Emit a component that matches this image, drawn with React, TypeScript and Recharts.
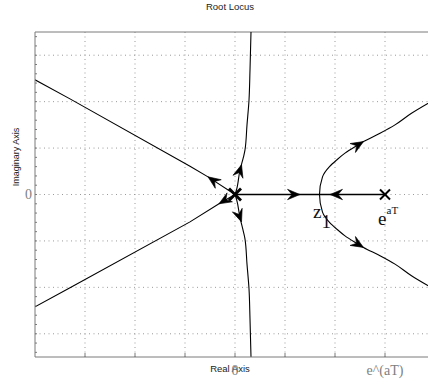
import React from 'react';
import {
  ComposedChart,
  Line,
  Scatter,
  XAxis,
  YAxis,
  CartesianGrid,
  ReferenceLine,
  Customized,
} from 'recharts';

// ---- data (real axis units, imaginary axis units) ----
const upperLeftBranch = [[0, 0], [-0.54, 0.38], [-0.9, 0.61], [-3.3, 2.06], [-4, 2.47]];
const lowerLeftBranch = [[0, 0], [-0.32, -0.2], [-0.9, -0.59], [-3.3, -2.01], [-4, -2.42]];
const upperVerticalBranch = [[0, 0], [0.03, 0.1], [0.1, 0.53], [0.17, 0.81], [0.2, 0.96], [0.24, 1.5], [0.28, 2.03], [0.3, 2.68], [0.32, 3.5]];
const lowerVerticalBranch = [[0, 0], [0.03, -0.1], [0.1, -0.5], [0.17, -0.81], [0.2, -0.96], [0.24, -1.5], [0.28, -2.03], [0.3, -2.68], [0.32, -3.5]];
const realAxisFromOrigin = [[0, 0], [1.69, 0]];
const realAxisFromPole = [[3, 0], [1.69, 0]];
const hyperbolaBranch = [
  [4.0, -2.05], [3.53, -1.75], [3.2, -1.5], [2.9, -1.32], [2.57, -1.14], [2.4, -1.03], [2.2, -0.89],
  [2.03, -0.74], [1.89, -0.6], [1.75, -0.38], [1.69, 0], [1.75, 0.38], [1.89, 0.6], [2.03, 0.74],
  [2.2, 0.89], [2.4, 1.03], [2.57, 1.14], [2.9, 1.32], [3.2, 1.5], [3.53, 1.75], [4.0, 2.05],
];
// arrows: [fromX, fromY, tipX, tipY]
const arrows = [
  [-0.3, 0.2, -0.54, 0.38],
  [-0.15, -0.09, -0.32, -0.2],
  [0.1, 0.53, 0.13, 0.64],
  [0.1, -0.5, 0.13, -0.59],
  [1.0, 0, 1.3, 0],
  [2.2, 0, 1.9, 0],
  [2.4, 1.03, 2.57, 1.14],
  [2.4, -1.03, 2.57, -1.14],
];
const multiplePole = [{ x: 0, y: 0 }];
const discretePole = [{ x: 3, y: 0 }];
const zeroPoint = [{ x: 1.69, y: 0 }];

const xTicks = [-3, -2, -1, 0, 1, 2, 3];
const xTickLabels = ['', '', '', '0', '', '', 'e^(aT)'];
const yGridValues = [-3, -2, -1, 0, 1, 2, 3];
const yMinorTicks = Array.from({ length: 35 }, (_, i) => Math.round((-3.4 + i * 0.2) * 10) / 10);

const rows = (pts: number[][]) => pts.map(([x, y]) => ({ x, y }));

const AXIS = '#7a7a7a';
const SERIF = '"Liberation Serif", "Times New Roman", serif';
const SANS = '"Liberation Sans", Arial, sans-serif';

const ArrowHead = (props: any) => {
  const { cx, cy, index, points } = props;
  const key = `ah-${index}`;
  if (index !== 1 || !points || points.length < 2) return <g key={key} />;
  const p = points[0];
  const ang = (Math.atan2(cy - p.y, cx - p.x) * 180) / Math.PI;
  return (
    <path
      key={key}
      d="M0,0 L-12.5,-5.2 L-8,0 L-12.5,5.2 Z"
      transform={`translate(${cx},${cy}) rotate(${ang})`}
      fill="#000"
      stroke="#000"
      strokeWidth={0.6}
    />
  );
};

const makeCross = (s: number, w: number) => (props: any) => {
  const { cx, cy } = props;
  return (
    <g>
      <line x1={cx - s} y1={cy - s} x2={cx + s} y2={cy + s} stroke="#000" strokeWidth={w} />
      <line x1={cx - s} y1={cy + s} x2={cx + s} y2={cy - s} stroke="#000" strokeWidth={w} />
    </g>
  );
};

const ZeroLabel = (props: any) => {
  const { cx, cy } = props;
  return (
    <g fontFamily={SERIF} fill="#111">
      <text x={cx - 6.5} y={cy + 23} fontSize={19}>z</text>
      <text x={cx + 2} y={cy + 33.5} fontSize={19}>1</text>
    </g>
  );
};

const PoleLabel = (props: any) => {
  const { cx, cy } = props;
  return (
    <g fontFamily={SERIF} fill="#111">
      <text x={cx - 7} y={cy + 30.5} fontSize={19}>e</text>
      <text x={cx + 1.5} y={cy + 19} fontSize={11}>aT</text>
    </g>
  );
};

const Titles = () => (
  <g fontFamily={SANS} fill="#222">
    <text x={230} y={9.5} fontSize={9.5} textAnchor="middle">Root Locus</text>
    <text x={230} y={372} fontSize={9.5} textAnchor="middle">Real Axis</text>
    <text x={18.5} y={157} fontSize={9} textAnchor="middle" transform="rotate(-90 18.5 157)">Imaginary Axis</text>
  </g>
);

export default function App() {
  const curve = (pts: number[][], key: string, w = 1.1, type: any = 'linear') => (
    <Line
      key={key}
      data={rows(pts)}
      dataKey="y"
      type={type}
      stroke="#000"
      strokeWidth={w}
      dot={false}
      activeDot={false}
      isAnimationActive={false}
      legendType="none"
    />
  );
  return (
    <div style={{ position: 'absolute', left: 0, top: 0, width: 428, height: 384, overflow: 'hidden', background: '#fff' }}>
      <ComposedChart width={436} height={384} margin={{ top: 32, right: 1, left: 0, bottom: 0 }}>
        <CartesianGrid
          stroke="#9a9a9a"
          strokeDasharray="1 3.5"
          horizontalValues={yGridValues}
          verticalValues={xTicks}
        />
        <XAxis
          dataKey="x"
          type="number"
          domain={[-4, 4]}
          allowDataOverflow
          ticks={xTicks}
          height={27}
          stroke={AXIS}
          tickSize={-4}
          tickMargin={12}
          tickLine={{ stroke: AXIS }}
          tick={{ fill: '#808080', fontSize: 14, fontFamily: SERIF }}
          tickFormatter={(v: number) => xTickLabels[xTicks.indexOf(v)] ?? ''}
          interval={0}
        />
        <YAxis
          type="number"
          domain={[-3.5, 3.5]}
          allowDataOverflow
          ticks={yMinorTicks}
          width={35}
          stroke={AXIS}
          tickSize={-2}
          tickMargin={5}
          tickLine={{ stroke: AXIS }}
          tick={{ fill: '#808080', fontSize: 14, fontFamily: SERIF }}
          tickFormatter={(v: number) => (v === 0 ? '0' : '')}
          interval={0}
        />
        <ReferenceLine y={3.5} stroke={AXIS} strokeWidth={1} ifOverflow="extendDomain" />
        {curve(upperLeftBranch, 'ul')}
        {curve(lowerLeftBranch, 'll')}
        {curve(upperVerticalBranch, 'uv', 1.1, 'monotoneY')}
        {curve(lowerVerticalBranch, 'lv', 1.1, 'monotoneY')}
        {curve(realAxisFromOrigin, 'ro', 1.6)}
        {curve(realAxisFromPole, 'rp', 1.6)}
        {curve(hyperbolaBranch, 'hy', 1.1, 'monotoneY')}
        {arrows.map(([fx, fy, tx, ty], i) => (
          <Line
            key={`ar${i}`}
            data={[{ x: fx, y: fy }, { x: tx, y: ty }]}
            dataKey="y"
            stroke="none"
            dot={ArrowHead}
            activeDot={false}
            isAnimationActive={false}
            legendType="none"
          />
        ))}
        <Scatter data={multiplePole} dataKey="y" shape={makeCross(6, 2.8)} isAnimationActive={false} legendType="none" />
        <Scatter data={discretePole} dataKey="y" shape={makeCross(5, 2)} isAnimationActive={false} legendType="none" />
        <Scatter data={zeroPoint} dataKey="y" shape={ZeroLabel} isAnimationActive={false} legendType="none" />
        <Scatter data={discretePole} dataKey="y" shape={PoleLabel} isAnimationActive={false} legendType="none" />
        <Customized component={Titles} />
      </ComposedChart>
    </div>
  );
}
